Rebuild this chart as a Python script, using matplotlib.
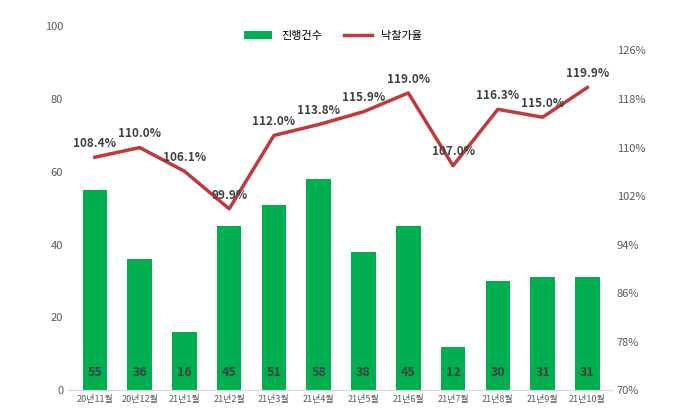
import matplotlib
matplotlib.use("Agg")
import matplotlib.pyplot as plt

plt.rcParams['font.family'] = 'Noto Sans CJK KR'

categories = ["20년11월","20년12월","21년1월","21년2월","21년3월","21년4월","21년5월","21년6월","21년7월","21년8월","21년9월","21년10월"]
counts = [55, 36, 16, 45, 51, 58, 38, 45, 12, 30, 31, 31]
rates = [108.4, 110.0, 106.1, 99.9, 112.0, 113.8, 115.9, 119.0, 107.0, 116.3, 115.0, 119.9]

fig = plt.figure(figsize=(6.8, 4.16), dpi=100)
ax = fig.add_axes([0.1, 0.062, 0.80, 0.875])
x = range(len(categories))
bars = ax.bar(x, counts, width=0.55, color='#00B050', label='진행건수')
ax.set_ylim(0, 100)
ax.set_yticks(range(0, 101, 20))
ax.set_xlim(-0.6, len(categories) - 0.45)
ax.set_xticks(list(x))
ax.set_xticklabels(categories, fontsize=6.5, color='#404040')
for i, c in enumerate(counts):
    ax.text(i, 3, str(c), ha='center', va='bottom', fontsize=9, fontweight='bold', color='#404040')

ax2 = ax.twinx()
line, = ax2.plot(list(x), rates, color='#C0393B', lw=2.5, label='낙찰가율')
ax2.set_ylim(70, 130)
ax2.set_yticks(range(70, 127, 8))
ax2.set_yticklabels([f"{v}%" for v in range(70, 127, 8)])
for i, r in enumerate(rates):
    ax2.text(i, r + 1.2, f"{r:.1f}%", ha='center', va='bottom', fontsize=8.5, fontweight='bold', color='#404040')

for a in (ax, ax2):
    for s in a.spines.values():
        s.set_visible(False)
    a.tick_params(length=0, labelsize=8, colors='#595959')
ax.tick_params(axis='x', labelsize=6.5)
ax.spines['bottom'].set_visible(True)
ax.spines['bottom'].set_color('#D9D9D9')

fig.legend([bars, line], ['진행건수', '낙찰가율'], loc='upper center', bbox_to_anchor=(0.49, 0.95),
           ncol=2, frameon=False, fontsize=8, handlelength=2.5)
fig.savefig('out.png', dpi=100)
